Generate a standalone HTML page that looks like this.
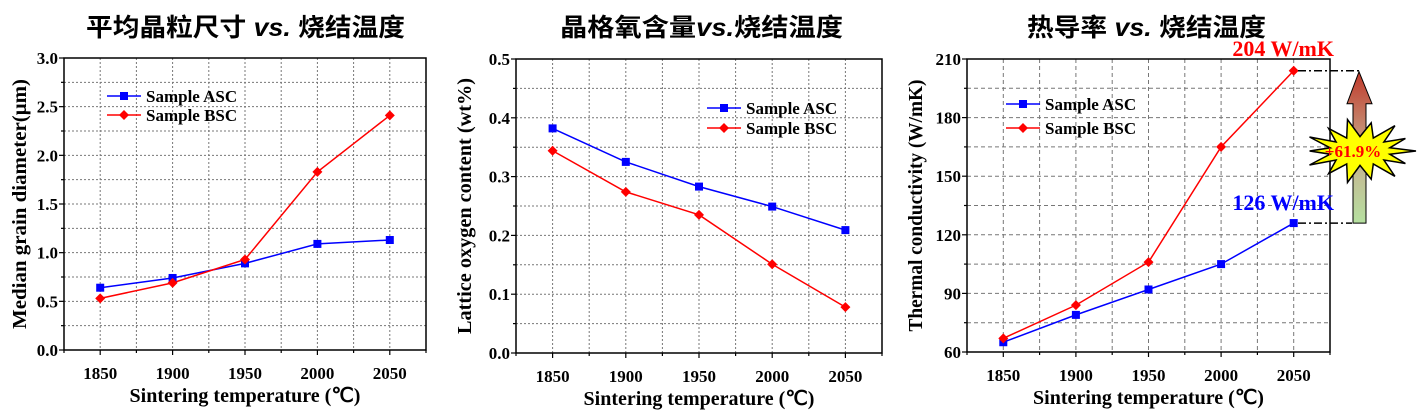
<!DOCTYPE html>
<html><head><meta charset="utf-8"><style>
html,body{margin:0;padding:0;background:#fff;width:1419px;height:410px;overflow:hidden}
svg{display:block}
.t{font-family:"Liberation Sans","Noto Sans CJK SC",sans-serif;font-weight:bold;font-size:25px}
.s{font-family:"Liberation Serif",serif;font-weight:bold}
</style></head><body>
<svg id="c" width="1419" height="410" xmlns="http://www.w3.org/2000/svg">
<defs><linearGradient id="g" x1="0" y1="1" x2="0" y2="0"><stop offset="0" stop-color="#b6e0a0"/><stop offset="0.45" stop-color="#c8b090"/><stop offset="1" stop-color="#c0392b"/></linearGradient></defs>
<text class="t" x="86" y="36" textLength="319" lengthAdjust="spacingAndGlyphs">平均晶粒尺寸 <tspan font-style="italic">vs.</tspan> 烧结温度</text>
<text class="t" x="560" y="36" textLength="283" lengthAdjust="spacingAndGlyphs">晶格氧含量<tspan font-style="italic">vs.</tspan>烧结温度</text>
<text class="t" x="1027" y="36" textLength="239" lengthAdjust="spacingAndGlyphs">热导率 <tspan font-style="italic">vs.</tspan> 烧结温度</text>
</svg>
<script>
const svg=document.getElementById('c');let h='';
function chart(o){
 const {L,T,R,B,ymin,ymax,ymaj,ymin2,fmt,ylab,a,b,leg}=o;
 const dx=(R-L)/10;
 const xp=i=>L+dx*(1+2*i);
 const Y=v=>B-(v-ymin)/(ymax-ymin)*(B-T);
 for(let k=1;k<10;k++){const x=L+(R-L)*k/10;h+=`<line x1="${x}" y1="${T}" x2="${x}" y2="${B}" stroke="#777" stroke-width="1" stroke-dasharray="${o.dash}"/>`;}
 for(let v=ymin+ymin2;v<ymax-1e-9;v+=ymin2){const y=Y(v);h+=`<line x1="${L}" y1="${y}" x2="${R}" y2="${y}" stroke="#777" stroke-width="1" stroke-dasharray="${o.dash}"/>`;}
 h+=`<rect x="${L}" y="${T}" width="${R-L}" height="${B-T}" fill="none" stroke="#000" stroke-width="1.5"/>`;
 for(let k=0;k<=10;k++){const x=L+(R-L)*k/10;h+=`<line x1="${x}" y1="${B}" x2="${x}" y2="${B+(k%2?5:3)}" stroke="#000" stroke-width="1.2"/>`;}
 for(let i=0;i<5;i++){h+=`<text class="s" x="${xp(i)}" y="${B+29}" font-size="17" text-anchor="middle">${1850+50*i}</text>`;}
 for(let v=ymin;v<=ymax+1e-9;v+=ymaj){const y=Y(v);h+=`<line x1="${L-5}" y1="${y}" x2="${L}" y2="${y}" stroke="#000" stroke-width="1.2"/><text class="s" x="${L-6}" y="${y+6}" font-size="17" text-anchor="end">${fmt(v)}</text>`;}
 for(let v=ymin+ymaj/2;v<ymax;v+=ymaj){const y=Y(v);h+=`<line x1="${L-3}" y1="${y}" x2="${L}" y2="${y}" stroke="#000" stroke-width="1.2"/>`;}
 h+=`<text class="s" x="${(L+R)/2}" y="${B+52}" font-size="20" text-anchor="middle">Sintering temperature (℃)</text>`;
 h+=`<text class="s" transform="translate(${o.yl},${(T+B)/2}) rotate(-90)" font-size="20" text-anchor="middle" textLength="${o.yll}" lengthAdjust="spacingAndGlyphs">${ylab}</text>`;
 const line=(d,c)=>h+=`<polyline points="${d.map((v,i)=>xp(i)+','+Y(v)).join(' ')}" fill="none" stroke="${c}" stroke-width="1.5"/>`;
 line(a,'#00f');line(b,'#f00');
 a.forEach((v,i)=>h+=`<rect x="${xp(i)-4}" y="${Y(v)-4}" width="8" height="8" fill="#00f"/>`);
 b.forEach((v,i)=>h+=`<polygon points="${xp(i)},${Y(v)-5} ${xp(i)+5},${Y(v)} ${xp(i)},${Y(v)+5} ${xp(i)-5},${Y(v)}" fill="#f00"/>`);
 const [lx,ly1,ly2]=leg;
 h+=`<line x1="${lx}" y1="${ly1}" x2="${lx+34}" y2="${ly1}" stroke="#00f" stroke-width="1.5"/><rect x="${lx+13}" y="${ly1-4}" width="8" height="8" fill="#00f"/>`;
 h+=`<line x1="${lx}" y1="${ly2}" x2="${lx+34}" y2="${ly2}" stroke="#f00" stroke-width="1.5"/><polygon points="${lx+17},${ly2-5} ${lx+22},${ly2} ${lx+17},${ly2+5} ${lx+12},${ly2}" fill="#f00"/>`;
 h+=`<text class="s" x="${lx+39}" y="${ly1+6}" font-size="17">Sample ASC</text><text class="s" x="${lx+39}" y="${ly2+6}" font-size="17">Sample BSC</text>`;
 return {xp,Y};
}
chart({L:64,T:58,R:426,B:350,ymin:0,ymax:3,ymaj:0.5,ymin2:0.25,fmt:v=>v.toFixed(1),ylab:'Median grain diameter(μm)',yl:26,yll:250,dash:'2,2',
 a:[.64,.74,.89,1.09,1.13],b:[.53,.69,.93,1.83,2.41],leg:[107,96,115]});
chart({L:516,T:59,R:882,B:353,ymin:0,ymax:0.5,ymaj:0.1,ymin2:0.05,fmt:v=>v.toFixed(1),ylab:'Lattice oxygen content (wt%)',yl:471,yll:256,dash:'2,2',
 a:[.382,.325,.283,.249,.209],b:[.344,.274,.235,.151,.078],leg:[707,108,128]});
const c3=chart({L:967,T:59,R:1330,B:352,ymin:60,ymax:210,ymaj:30,ymin2:15,fmt:v=>v.toFixed(0),ylab:'Thermal conductivity (W/mK)',yl:922,yll:252,dash:'4,3',
 a:[65,79,92,105,126],b:[67,84,106,165,204],leg:[1006,104,128]});
const y1=c3.Y(204),y2=c3.Y(126);
h+=`<line x1="1298" y1="${y1}" x2="1360" y2="${y1}" stroke="#000" stroke-width="1.5" stroke-dasharray="8,3,2,3"/>`;
h+=`<line x1="1298" y1="${y2}" x2="1352" y2="${y2}" stroke="#000" stroke-width="1.5" stroke-dasharray="8,3,2,3"/>`;
h+=`<polygon points="1359,${y1+1} 1372,${y1+33} 1366,${y1+33} 1366,${y2} 1353,${y2} 1353,${y1+33} 1347,${y1+33}" fill="url(#g)" stroke="#000" stroke-width="1"/>`;
let pts=[];const cx=1360,cy=151,n=14;for(let i=0;i<2*n;i++){const ang=Math.PI*i/n;const rx=(i%2?34:56)*(i%4==0?1:0.9),ry=(i%2?17:34)*(i%4==0?0.95:0.85);pts.push((cx+rx*Math.cos(ang)).toFixed(1)+','+(cy+ry*Math.sin(ang)).toFixed(1));}
h+=`<polygon points="${pts.join(' ')}" fill="#ffff00" stroke="#000" stroke-width="1.5"/>`;
h+=`<text class="s" x="${cx-7}" y="${cy+6}" font-size="17" fill="#f00" text-anchor="middle">+61.9%</text>`;
h+=`<text class="s" x="1334" y="56" font-size="22" fill="#f00" text-anchor="end">204 W/mK</text>`;
h+=`<text class="s" x="1334" y="210" font-size="22" fill="#00f" text-anchor="end">126 W/mK</text>`;
svg.insertAdjacentHTML('beforeend',h);
</script>
</body></html>
